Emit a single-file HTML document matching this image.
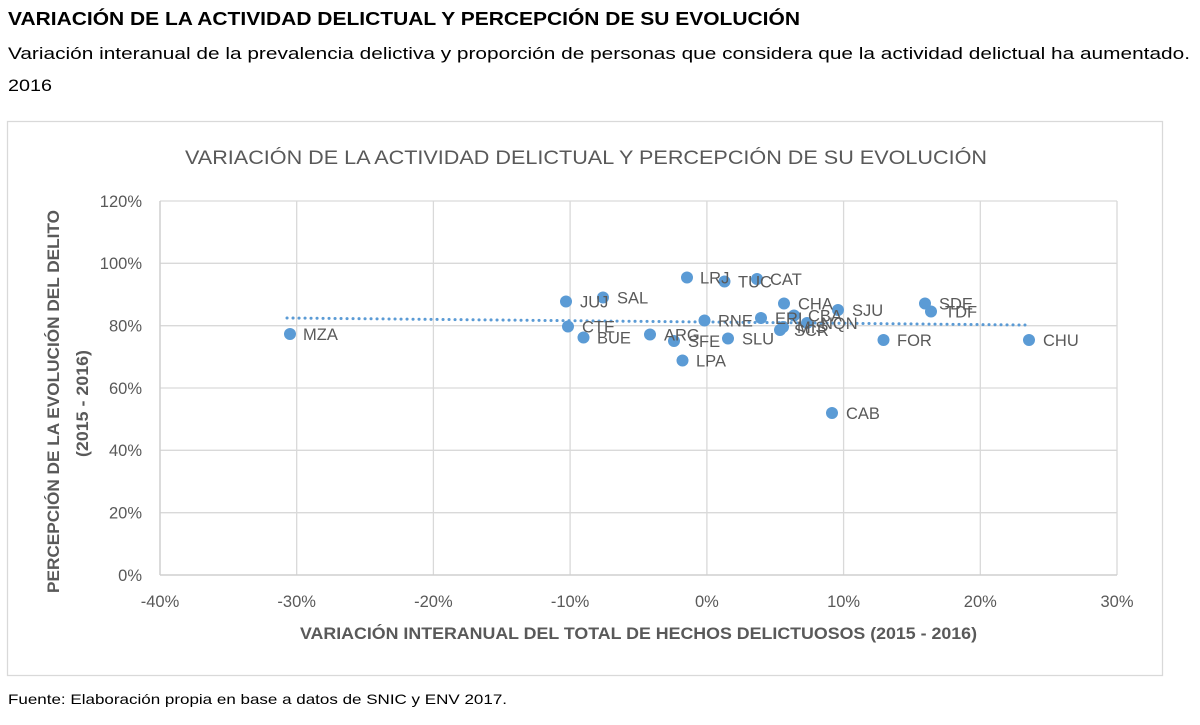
<!DOCTYPE html>
<html>
<head>
<meta charset="utf-8">
<style>
html,body{margin:0;padding:0;background:#fff;}
svg{display:block;}
text{font-family:"Liberation Sans",sans-serif;}
</style>
</head>
<body>
<svg width="1200" height="725" viewBox="0 0 1200 725" xmlns="http://www.w3.org/2000/svg">
<rect x="0" y="0" width="1200" height="725" fill="#fff"/>
<!-- Page heading -->
<text x="8" y="25" font-size="18" font-weight="bold" fill="#000" textLength="792" lengthAdjust="spacingAndGlyphs">VARIACIÓN DE LA ACTIVIDAD DELICTUAL Y PERCEPCIÓN DE SU EVOLUCIÓN</text>
<text x="8" y="59" font-size="17" fill="#000" textLength="1182" lengthAdjust="spacingAndGlyphs">Variación interanual de la prevalencia delictiva y proporción de personas que considera que la actividad delictual ha aumentado.</text>
<text x="8" y="91" font-size="17" fill="#000" textLength="44" lengthAdjust="spacingAndGlyphs">2016</text>

<!-- Chart box -->
<rect x="7.5" y="121.5" width="1155" height="554" fill="#fff" stroke="#d9d9d9" stroke-width="1.3"/>

<!-- Chart title -->
<text x="185" y="164" font-size="19.5" fill="#595959" textLength="802" lengthAdjust="spacingAndGlyphs">VARIACIÓN DE LA ACTIVIDAD DELICTUAL Y PERCEPCIÓN DE SU EVOLUCIÓN</text>

<!-- Gridlines -->
<g stroke="#d9d9d9" stroke-width="1.3" fill="none">
  <line x1="160" y1="201" x2="1117" y2="201"/>
  <line x1="160" y1="263.3" x2="1117" y2="263.3"/>
  <line x1="160" y1="325.7" x2="1117" y2="325.7"/>
  <line x1="160" y1="388" x2="1117" y2="388"/>
  <line x1="160" y1="450.3" x2="1117" y2="450.3"/>
  <line x1="160" y1="512.7" x2="1117" y2="512.7"/>
  <line x1="296.7" y1="201" x2="296.7" y2="575"/>
  <line x1="433.4" y1="201" x2="433.4" y2="575"/>
  <line x1="570.1" y1="201" x2="570.1" y2="575"/>
  <line x1="706.9" y1="201" x2="706.9" y2="575"/>
  <line x1="843.6" y1="201" x2="843.6" y2="575"/>
  <line x1="980.3" y1="201" x2="980.3" y2="575"/>
  <line x1="1117" y1="201" x2="1117" y2="575"/>
</g>
<!-- Axes -->
<g stroke="#cfcfcf" stroke-width="1.5">
  <line x1="160" y1="201" x2="160" y2="575"/>
  <line x1="160" y1="575" x2="1117" y2="575"/>
</g>

<!-- Y tick labels -->
<g font-size="16.5" fill="#595959" text-anchor="end">
  <text x="142" y="207">120%</text>
  <text x="142" y="269">100%</text>
  <text x="142" y="331.5">80%</text>
  <text x="142" y="394">60%</text>
  <text x="142" y="456">40%</text>
  <text x="142" y="518.5">20%</text>
  <text x="142" y="581">0%</text>
</g>
<!-- X tick labels -->
<g font-size="16.5" fill="#595959" text-anchor="middle">
  <text x="160" y="607">-40%</text>
  <text x="296.7" y="607">-30%</text>
  <text x="433.4" y="607">-20%</text>
  <text x="570.1" y="607">-10%</text>
  <text x="706.9" y="607">0%</text>
  <text x="843.6" y="607">10%</text>
  <text x="980.3" y="607">20%</text>
  <text x="1117" y="607">30%</text>
</g>

<!-- Axis titles -->
<text x="300" y="639" font-size="16.5" font-weight="bold" fill="#595959" textLength="677" lengthAdjust="spacingAndGlyphs">VARIACIÓN INTERANUAL DEL TOTAL DE HECHOS DELICTUOSOS (2015 - 2016)</text>
<text transform="translate(59,593) rotate(-90)" font-size="16.5" font-weight="bold" fill="#595959" textLength="383" lengthAdjust="spacingAndGlyphs">PERCEPCIÓN DE LA EVOLUCIÓN DEL DELITO</text>
<text transform="translate(88,457) rotate(-90)" font-size="16.5" font-weight="bold" fill="#595959" textLength="107" lengthAdjust="spacingAndGlyphs">(2015 - 2016)</text>

<!-- Trendline -->
<line x1="287" y1="318" x2="1025" y2="325" stroke="#5b9bd5" stroke-width="3" stroke-linecap="round" stroke-dasharray="0.1 5.9"/>

<!-- Points -->
<g fill="#5b9bd5">
  <circle cx="290" cy="334" r="6"/>
  <circle cx="566" cy="301.5" r="6"/>
  <circle cx="603" cy="297.5" r="6"/>
  <circle cx="568" cy="326.5" r="6"/>
  <circle cx="583.5" cy="337.5" r="6"/>
  <circle cx="650" cy="334.5" r="6"/>
  <circle cx="674" cy="341" r="6"/>
  <circle cx="682.5" cy="360.5" r="6"/>
  <circle cx="687" cy="277.5" r="6"/>
  <circle cx="704.5" cy="320.5" r="6"/>
  <circle cx="724.5" cy="281.5" r="6"/>
  <circle cx="757" cy="279" r="6"/>
  <circle cx="728" cy="338.5" r="6"/>
  <circle cx="761" cy="318" r="6"/>
  <circle cx="784" cy="303.5" r="6"/>
  <circle cx="794" cy="315.5" r="6"/>
  <circle cx="780" cy="330" r="6"/>
  <circle cx="783" cy="327" r="6"/>
  <circle cx="807" cy="323" r="6"/>
  <circle cx="838" cy="310" r="6"/>
  <circle cx="832" cy="413" r="6"/>
  <circle cx="883.5" cy="340" r="6"/>
  <circle cx="925" cy="303.5" r="6"/>
  <circle cx="931" cy="311.5" r="6"/>
  <circle cx="1029" cy="340" r="6"/>
</g>

<!-- Data labels -->
<g font-size="16.5" fill="#595959">
  <text x="303" y="340">MZA</text>
  <text x="580" y="307.5">JUJ</text>
  <text x="617" y="303.5">SAL</text>
  <text x="582" y="332.5">CTE</text>
  <text x="597" y="343.5">BUE</text>
  <text x="664" y="340.5">ARG</text>
  <text x="688" y="347">SFE</text>
  <text x="696" y="366.5">LPA</text>
  <text x="700" y="283.5">LRJ</text>
  <text x="718" y="326.5">RNE</text>
  <text x="738" y="287.5">TUC</text>
  <text x="770" y="285">CAT</text>
  <text x="742" y="344.5">SLU</text>
  <text x="775" y="324">ERI</text>
  <text x="798" y="309.5">CHA</text>
  <text x="808" y="321.5">CBA</text>
  <text x="794" y="336">SCR</text>
  <text x="797" y="333">MIS</text>
  <text x="821" y="329">NQN</text>
  <text x="852" y="316">SJU</text>
  <text x="846" y="419">CAB</text>
  <text x="897" y="346">FOR</text>
  <text x="939" y="309.5">SDE</text>
  <text x="945" y="317.5">TDF</text>
  <text x="1043" y="346">CHU</text>
</g>

<!-- Footer -->
<text x="8" y="704" font-size="14" fill="#000" textLength="499" lengthAdjust="spacingAndGlyphs">Fuente: Elaboración propia en base a datos de SNIC y ENV 2017.</text>
</svg>
</body>
</html>
